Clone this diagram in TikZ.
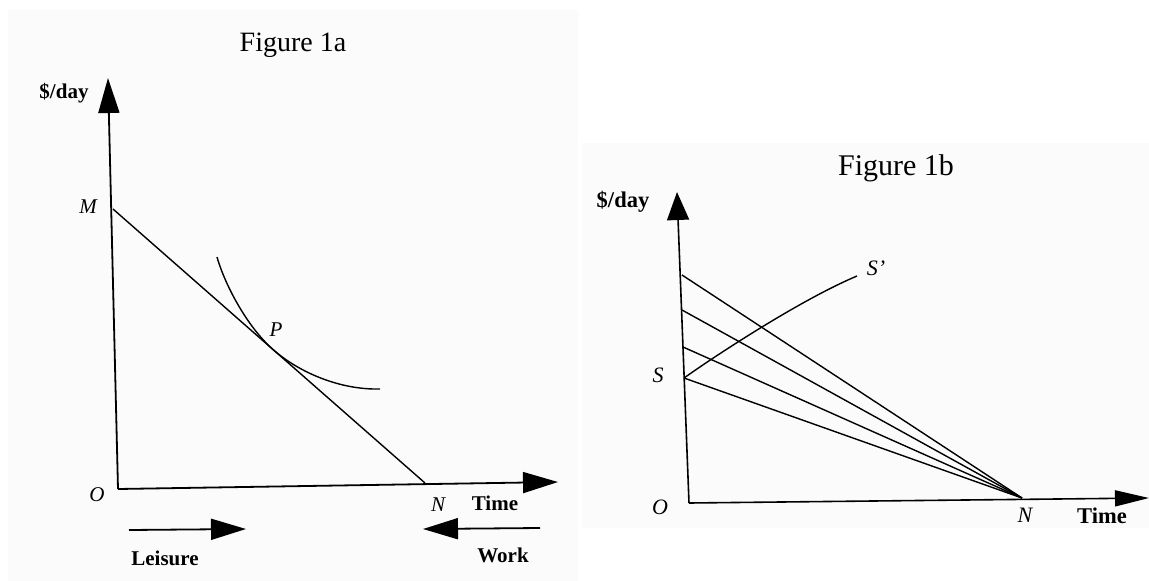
\documentclass[tikz,border=0pt]{standalone}
\usepackage{fontspec}
\setmainfont{Liberation Serif}
\usetikzlibrary{arrows.meta,calc}
\begin{document}
\begin{tikzpicture}[x=1pt,y=-1pt,
  axisA/.style={line width=1.8pt, -{Triangle[length=35pt,width=21pt]}},
  axisBy/.style={line width=1.6pt, -{Triangle[length=28pt,width=22pt]}},
  axisBx/.style={line width=1.6pt, -{Triangle[length=34pt,width=16pt]}},
  thinline/.style={line width=1.4pt},
  lblA/.style={font=\fontsize{21}{21}\selectfont\bfseries, inner sep=0pt},
  ptA/.style={font=\fontsize{21}{21}\selectfont\itshape, inner sep=0pt},
  lblB/.style={font=\fontsize{22.5}{22.5}\selectfont\bfseries, inner sep=0pt},
  ptB/.style={font=\fontsize{22}{22}\selectfont\itshape, inner sep=0pt},
  ttlA/.style={font=\fontsize{28}{28}\selectfont, inner sep=0pt},
  ttlB/.style={font=\fontsize{30}{30}\selectfont, inner sep=0pt},
  paper/.style={fill=black!1.5, draw=none}]
\useasboundingbox (0,0) rectangle (1149,581);
\fill[paper] (8,10) rectangle (578,581);
\fill[paper] (582,143) rectangle (1149,528);

% ---------------- Figure 1a ----------------
\coordinate (O1) at (118,489);
\coordinate (Y1) at (108,78);
\coordinate (X1) at (558,482);
\coordinate (M1) at (113,209);
\coordinate (N1) at (425,483);
\coordinate (T1) at ($(M1)!0.513!(N1)$);
\coordinate (C1s) at (217,257);
\coordinate (C1e) at (380,389);
\coordinate (LsA) at (129,530);
\coordinate (LsB) at (246,529);
\coordinate (WkA) at (540,528);
\coordinate (WkB) at (423,529);

\node[ttlA] (title1) at (293,45) {Figure 1a};
\node[lblA] (yl1) at (64,93) {\$/day};
\node[ptA] (Mlab) at (88,207) {M};
\node[ptA] (Plab) at (276,330) {P};
\node[ptA] (Olab1) at (97,495) {O};
\node[ptA] (Nlab1) at (438,505) {N};
\node[lblA] (time1) at (495,503) {Time};
\node[lblA] (leis) at (165,558) {Leisure};
\node[lblA] (work) at (503,555) {Work};

\draw[axisA] (O1) -- (Y1);
\draw[axisA] (O1) -- (X1);
\draw[thinline] (M1) -- (N1);
\draw[thinline] (C1s) .. controls (225,285) and ($(T1)-(26,22.9)$) .. (T1)
   .. controls ($(T1)+(26,22.9)$) and (340,390) .. (C1e);
\draw[axisA] (LsA) -- (LsB);
\draw[axisA] (WkA) -- (WkB);

% ---------------- Figure 1b ----------------
\coordinate (O2) at (689,503);
\coordinate (Y2) at (677,192);
\coordinate (X2) at (1149,498);
\coordinate (N2) at (1022,498);
\coordinate (A1) at (682,275);
\coordinate (A2) at (682,310);
\coordinate (A3) at (683,347);
\coordinate (S2) at (684,378);
\coordinate (Sp) at (857,276);

\node[ttlB] (title2) at (896,168) {Figure 1b};
\node[lblB] (yl2) at (623,202) {\$/day};
\node[ptB] (Slab) at (658,375) {S};
\node[ptB] (Splab) at (876,268) {S'};
\node[ptB] (Olab2) at (660,507) {O};
\node[ptB] (Nlab2) at (1025,515) {N};
\node[lblB] (time2) at (1102,516) {Time};

\draw[axisBy] (O2) -- (Y2);
\draw[axisBx] (O2) -- (X2);
\draw[thinline] (A1) -- (N2);
\draw[thinline] (A2) -- (N2);
\draw[thinline] (A3) -- (N2);
\draw[thinline] (S2) -- (N2);
\draw[thinline] (S2) .. controls (715,356) and (800,300) .. (Sp);
\end{tikzpicture}
\end{document}
